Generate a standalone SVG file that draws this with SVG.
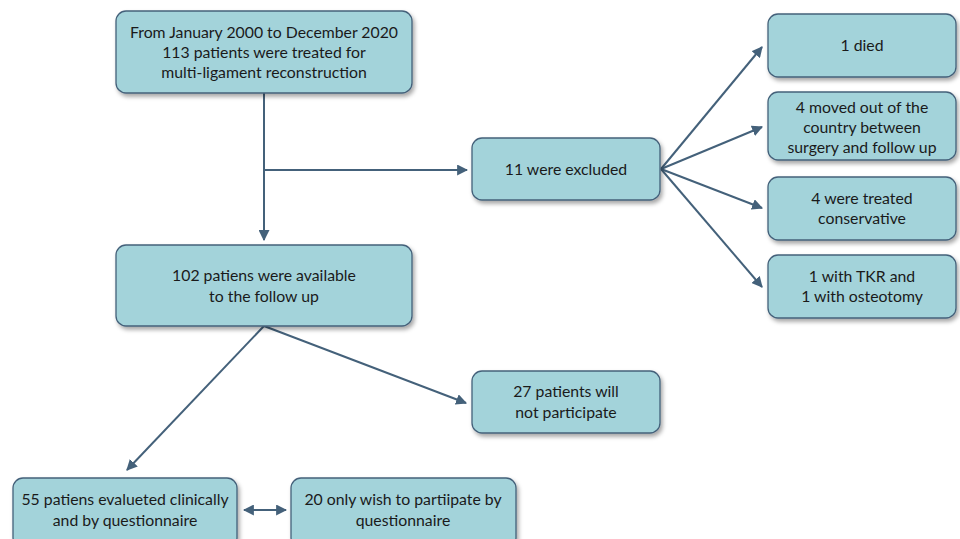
<svg xmlns="http://www.w3.org/2000/svg" width="960" height="539" viewBox="0 0 960 539">
<style>
.box{fill:#a3d3da;stroke:#44617a;stroke-width:1.3;filter:url(#sh)}
.t{font-family:Lato,"Open Sans",sans-serif;font-size:15.8px;fill:#1a1a1a;text-anchor:middle}
.c{stroke:#44617a;stroke-width:2;fill:none}
</style>
<defs>
<filter id="sh" x="-10%" y="-10%" width="130%" height="140%">
<feDropShadow dx="2" dy="3" stdDeviation="2" flood-color="#000" flood-opacity="0.35"/>
</filter>
<marker id="a" viewBox="0 0 10 10" refX="9" refY="5" markerWidth="5.5" markerHeight="5.5" orient="auto-start-reverse">
<path d="M0,0 L10,5 L0,10 Z" fill="#44617a"/>
</marker>
</defs>
<rect width="960" height="539" fill="#fff"/>
<g id="connectors">
<path class="c" d="M264,93 V240" marker-end="url(#a)"/>
<path class="c" d="M264,170 H467" marker-end="url(#a)"/>
<path class="c" d="M661,169 L762,47" marker-end="url(#a)"/>
<path class="c" d="M661,169 L762,127" marker-end="url(#a)"/>
<path class="c" d="M661,169 L762,208" marker-end="url(#a)"/>
<path class="c" d="M661,169 L762,287" marker-end="url(#a)"/>
<path class="c" d="M264,326 L127,470" marker-end="url(#a)"/>
<path class="c" d="M264,326 L466,403" marker-end="url(#a)"/>
<path class="c" d="M244,510 H286" marker-start="url(#a)" marker-end="url(#a)"/>
</g>
<g id="n1"><rect class="box" x="116" y="11" width="296" height="82" rx="10"/>
<text class="t" x="264" y="38">From January 2000 to December 2020</text>
<text class="t" x="264" y="58">113 patients were treated for</text>
<text class="t" x="264" y="78">multi-ligament reconstruction</text></g>
<g id="n2"><rect class="box" x="472" y="138" width="188" height="62" rx="10"/>
<text class="t" x="566" y="175">11 were excluded</text></g>
<g id="n3"><rect class="box" x="768" y="14" width="188" height="63" rx="10"/>
<text class="t" x="862" y="51">1 died</text></g>
<g id="n4"><rect class="box" x="768" y="92" width="188" height="68" rx="10"/>
<text class="t" x="862" y="113">4 moved out of the</text>
<text class="t" x="862" y="133">country between</text>
<text class="t" x="862" y="153">surgery and follow up</text></g>
<g id="n5"><rect class="box" x="768" y="177" width="188" height="63" rx="10"/>
<text class="t" x="862" y="204">4 were treated</text>
<text class="t" x="862" y="224">conservative</text></g>
<g id="n6"><rect class="box" x="768" y="255" width="188" height="63" rx="10"/>
<text class="t" x="862" y="282">1 with TKR and</text>
<text class="t" x="862" y="302">1 with osteotomy</text></g>
<g id="n7"><rect class="box" x="116" y="245" width="296" height="81" rx="10"/>
<text class="t" x="264" y="281">102 patiens were available</text>
<text class="t" x="264" y="302">to the follow up</text></g>
<g id="n8"><rect class="box" x="472" y="371" width="188" height="62" rx="10"/>
<text class="t" x="566" y="397">27 patients will</text>
<text class="t" x="566" y="418">not participate</text></g>
<g id="n9"><rect class="box" x="13" y="478" width="224" height="70" rx="10"/>
<text class="t" x="125" y="505">55 patiens evalueted clinically</text>
<text class="t" x="125" y="526">and by questionnaire</text></g>
<g id="n10"><rect class="box" x="291" y="478" width="225" height="70" rx="10"/>
<text class="t" x="403" y="505">20 only wish to partiipate by</text>
<text class="t" x="403" y="526">questionnaire</text></g>
</svg>
